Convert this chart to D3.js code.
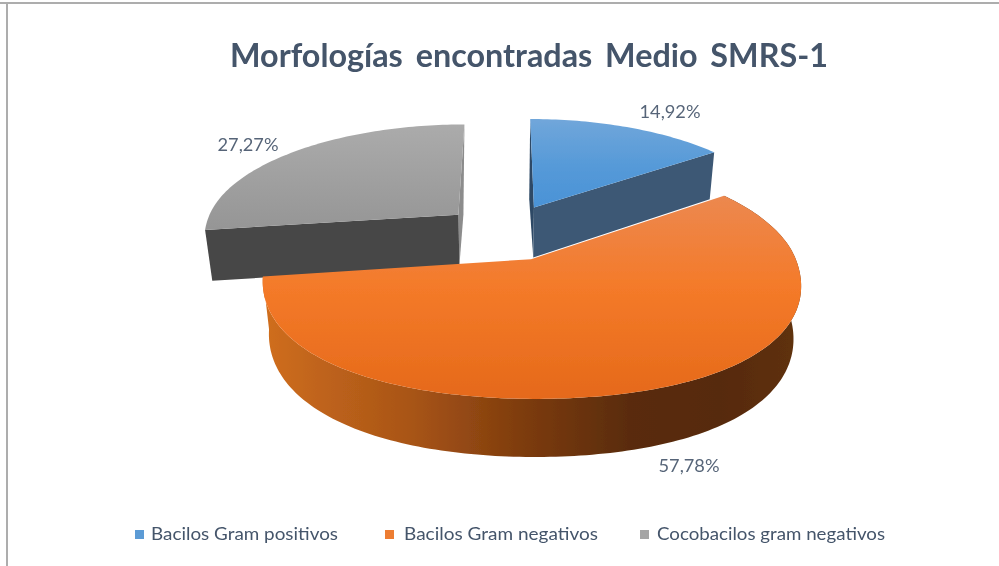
<!DOCTYPE html>
<html>
<head>
<meta charset="utf-8">
<script src="https://cdn.jsdelivr.net/npm/d3@7/dist/d3.min.js"></script>
<style>
html,body{margin:0;padding:0;background:#fff;overflow:hidden}
svg{display:block}
text{font-family:Lato,"Open Sans",sans-serif;fill:#44546a}
</style>
</head>
<body>
<svg id="c" width="999" height="566"></svg>
<script>
const chartTitle = "Morfologías encontradas Medio SMRS-1";
const categories = ["Bacilos Gram positivos", "Bacilos Gram negativos", "Cocobacilos gram negativos"];
const percentages = [14.92, 57.78, 27.27];
const sliceColors = ["#5b9bd5", "#ed7d31", "#a5a5a5"];

const W = 999, H = 566;
const svg = d3.select("#c");
const defs = svg.append("defs");
const soft = (id,s)=>defs.append("filter").attr("id",id).attr("x","-5%").attr("y","-20%").attr("width","110%").attr("height","140%")
  .append("feGaussianBlur").attr("stdDeviation",s);
soft("soft",0.45); soft("softText",0.55);
const root = svg.append("g").attr("filter","url(#soft)");
const textLayer = svg.append("g").attr("filter","url(#softText)");

// chart frame (top and left edges only are visible)
root.append("rect").attr("x",0).attr("y",2).attr("width",W).attr("height",2).attr("fill","#adadad");
root.append("rect").attr("x",6).attr("y",2).attr("width",2).attr("height",H).attr("fill","#adadad");

// perspective projection of the pie's ground plane
const sx = d3.scaleLinear().domain([0,1]).range([505,760]);
const sy = d3.scaleLinear().domain([0,1]).range([232,123]);
const persp = 0.153, explode = [0.26,0.26,0.248], drop = 0.024, vanish = [505,2360], nearBulge = 0.03;
function topPt(u,v){
  const w = 1 + persp*v;
  return [sx(u/w), sy(v/w), w];
}
function botPt(u,v){
  const [x,y,w] = topPt(u,v), t = drop/w;
  return [x + t*(vanish[0]-x), y + t*(vanish[1]-y)];
}
const slices = d3.pie().sort(null).value(d=>d)(percentages).map((d,i)=>{
  const mid = (d.startAngle+d.endAngle)/2;
  return {...d, ox: explode[i]*Math.sin(mid), oy: explode[i]*Math.cos(mid)};
});
const rimPts = (s,a0,a1,fn)=>{
  const n = Math.max(2,Math.ceil(Math.abs(a1-a0)/0.02));
  return d3.range(n+1).map(i=>{
    const a = a0+(a1-a0)*i/n;
    const c = Math.cos(a), r = c<0 ? 1+nearBulge*Math.pow(Math.sin(2*a),2) : 1;
    return fn(s.ox+r*Math.sin(a), s.oy+r*c);
  });
};
const apex = (s,fn)=>fn(s.ox,s.oy);
const line = d3.line().curve(d3.curveLinear);
const closed = pts=>line(pts.map(p=>[p[0],p[1]]))+"Z";

function vGrad(id,y1,y2,stops){
  const g = defs.append("linearGradient").attr("id",id).attr("gradientUnits","userSpaceOnUse")
    .attr("x1",0).attr("x2",0).attr("y1",y1).attr("y2",y2);
  stops.forEach(s=>g.append("stop").attr("offset",s[0]).attr("stop-color",s[1]));
}
vGrad("gBlue",120,210,[[0,"#70a6da"],[0.55,"#5499d8"],[1,"#4a92d6"]]);
vGrad("gOrange",196,400,[[0,"#ec884f"],[0.45,"#f47a29"],[1,"#e5691a"]]);
vGrad("gGray",125,232,[[0,"#ababab"],[1,"#959595"]]);
const wg = defs.append("linearGradient").attr("id","gWall").attr("gradientUnits","userSpaceOnUse")
  .attr("x1",264).attr("x2",800).attr("y1",0).attr("y2",0);
[[0,"#d06e1e"],[0.1,"#c0641b"],[0.27,"#a95517"],[0.5,"#7a3a0d"],[0.68,"#5a2c0a"],[0.85,"#572a09"],[1,"#5f310f"]]
  .forEach(s=>wg.append("stop").attr("offset",s[0]).attr("stop-color",s[1]));

const [blue,orange,gray] = slices;
const g = root.append("g");

// blue slice: far radial sliver, front radial wall, top
const blueStart = rimPts(blue,blue.startAngle,blue.startAngle,topPt)[0];
const blueEnd = rimPts(blue,blue.endAngle,blue.endAngle,topPt)[0];
g.append("path").attr("fill","#2f4a66").attr("d",closed([
  apex(blue,topPt), blueStart, [blueStart[0]-1, blueStart[1]+80], apex(blue,botPt)]));
g.append("path").attr("fill","#3d5875").attr("d",closed([
  apex(blue,topPt), blueEnd, rimPts(blue,blue.endAngle,blue.endAngle,botPt)[0], apex(blue,botPt)]));
g.append("path").attr("fill","url(#gBlue)").attr("d",closed(
  [apex(blue,topPt), ...rimPts(blue,blue.startAngle,blue.endAngle,topPt)]));

// gray slice
const grayEnd = Math.PI*2;
const grayClose = rimPts(gray,grayEnd,grayEnd,topPt)[0];
g.append("path").attr("fill","#8c8c8c").attr("d",closed([
  apex(gray,topPt), grayClose, [grayClose[0]-1, grayClose[1]+90], apex(gray,botPt)]));
g.append("path").attr("fill","#474747").attr("d",closed([
  apex(gray,topPt), rimPts(gray,gray.startAngle,gray.startAngle,topPt)[0],
  rimPts(gray,gray.startAngle,gray.startAngle,botPt)[0], apex(gray,botPt)]));
g.append("path").attr("fill","url(#gGray)").attr("d",closed(
  [apex(gray,topPt), ...rimPts(gray,gray.startAngle,grayEnd,topPt)]));

// orange slice: outer curved wall, then top
const oTop = rimPts(orange,orange.startAngle,orange.endAngle,topPt);
const oBot = rimPts(orange,orange.startAngle,orange.endAngle,botPt);
g.append("path").attr("fill","url(#gWall)").attr("d",closed([...oTop,...oBot.slice().reverse()]));
g.append("path").attr("fill","url(#gOrange)").attr("d",closed([apex(orange,topPt),...oTop]));

// data labels
const fmt = v=>d3.format(".2f")(v).replace(".",",")+"%";
textLayer.append("g").attr("font-size",17).attr("text-anchor","middle")
  .selectAll("text").data(percentages).join("text")
  .attr("x",(d,i)=>[670,689,248][i]).attr("y",(d,i)=>[118,472,151][i])
  .attr("textLength",61).attr("lengthAdjust","spacingAndGlyphs")
  .style("opacity",0.9).text(fmt);

// title
textLayer.append("text").attr("x",230).attr("y",67).attr("font-size",32.5).attr("font-weight",700)
  .attr("word-spacing",5)
  .attr("textLength",598).attr("lengthAdjust","spacingAndGlyphs").text(chartTitle);

// legend
const legendX = [135,385,640], textX = [151,404,657], textW = [187,194,228];
const lg = textLayer.append("g").selectAll("g").data(categories).join("g");
lg.append("rect").attr("x",(d,i)=>legendX[i]).attr("y",530).attr("width",9).attr("height",9)
  .attr("fill",(d,i)=>sliceColors[i]);
lg.append("text").attr("x",(d,i)=>textX[i]).attr("y",540).attr("font-size",17.5)
  .attr("textLength",(d,i)=>textW[i]).attr("lengthAdjust","spacingAndGlyphs").text(d=>d);
</script>
</body>
</html>
